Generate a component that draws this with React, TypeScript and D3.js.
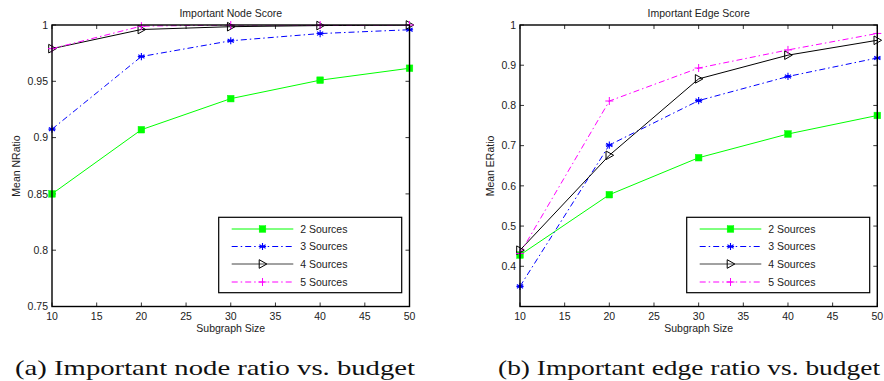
import React from "react";
import * as d3 from "d3";

const sizes = [10, 20, 30, 40, 50];
const seriesNames = ["2 Sources", "3 Sources", "4 Sources", "5 Sources"];
const nodeS2 = [0.85, 0.907, 0.9346, 0.951, 0.9616];
const nodeS3 = [0.9075, 0.972, 0.986, 0.9924, 0.9958];
const nodeS4 = [0.979, 0.996, 0.9985, 0.9995, 1.0];
const nodeS5 = [0.979, 0.999, 1.0, 1.0, 1.0];
const edgeS2 = [0.428, 0.578, 0.67, 0.729, 0.775];
const edgeS3 = [0.35, 0.7015, 0.812, 0.872, 0.918];
const edgeS4 = [0.44, 0.676, 0.866, 0.925, 0.962];
const edgeS5 = [0.432, 0.811, 0.893, 0.938, 0.979];
const xTicks = [10, 15, 20, 25, 30, 35, 40, 45, 50];
const nodeYTicks = [0.75, 0.8, 0.85, 0.9, 0.95, 1];
const edgeYTicks = [0.4, 0.5, 0.6, 0.7, 0.8, 0.9, 1];

const colors = ["#00ff00", "#0000ff", "#000000", "#ff00ff"];
const dashes = ["", "6,3,1.5,3", "", "6,3,1.5,3"];
const markers = ["square", "star", "tri", "plus"];

const FONT = "'Liberation Sans', Arial, Helvetica, sans-serif";
const TXT = "#222";

function Marker({ type, x, y, color }: { type: string; x: number; y: number; color: string }) {
  if (type === "square") {
    return <rect x={x - 3.3} y={y - 3.3} width={6.6} height={6.6} fill={color} stroke={color} strokeWidth={0.5} />;
  }
  if (type === "star") {
    const r = 3.6;
    const segs = [0, 60, 120].map((a) => {
      const rad = (a * Math.PI) / 180;
      return `M${x - r * Math.sin(rad)},${y - r * Math.cos(rad)}L${x + r * Math.sin(rad)},${y + r * Math.cos(rad)}`;
    });
    return <path d={segs.join("") + `M${x - r},${y}L${x + r},${y}`} stroke={color} strokeWidth={1.1} fill="none" />;
  }
  if (type === "tri") {
    return (
      <path
        d={`M${x - 3.3},${y - 4.3}L${x + 4.3},${y}L${x - 3.3},${y + 4.3}Z`}
        stroke={color}
        strokeWidth={1}
        fill="none"
      />
    );
  }
  const r = 4;
  return <path d={`M${x - r},${y}L${x + r},${y}M${x},${y - r}L${x},${y + r}`} stroke={color} strokeWidth={1} fill="none" />;
}

type PanelProps = {
  left: number;
  right: number;
  yDomain: [number, number];
  yTicks: number[];
  data: number[][];
  title: string;
  yLabel: string;
  yLabelX: number;
  legendX: number;
  caption: string;
  captionX: number;
  captionW: number;
};

function Panel(p: PanelProps) {
  const top = 25;
  const bottom = 306.5;
  const x = d3.scaleLinear().domain([10, 50]).range([p.left, p.right]);
  const y = d3.scaleLinear().domain(p.yDomain).range([bottom, top]);
  const line = d3
    .line<number>()
    .x((_, i) => x(sizes[i]))
    .y((v) => y(v));
  const tl = 4;
  const cx = (p.left + p.right) / 2;
  const legW = 183;
  const legTop = 217.3;
  const legH = 75.4;
  const rowYs = [229, 246.5, 264, 282];
  return (
    <g>
      <defs>
        <clipPath id={`clip-${p.left}`}>
          <rect x={p.left} y={top} width={p.right - p.left} height={bottom - top} />
        </clipPath>
      </defs>
      <text x={cx} y={17} textAnchor="middle" fontFamily={FONT} fontSize={10.5} fill={TXT}>
        {p.title}
      </text>
      {xTicks.map((t) => (
        <g key={`xt${t}`}>
          <line x1={x(t)} x2={x(t)} y1={bottom} y2={bottom - tl} stroke="#000" strokeWidth={0.8} />
          <line x1={x(t)} x2={x(t)} y1={top} y2={top + tl} stroke="#000" strokeWidth={0.8} />
          <text x={x(t)} y={bottom + 13.5} textAnchor="middle" fontFamily={FONT} fontSize={10.5} fill={TXT}>
            {t}
          </text>
        </g>
      ))}
      {p.yTicks.map((t) => (
        <g key={`yt${t}`}>
          <line x1={p.left} x2={p.left + tl} y1={y(t)} y2={y(t)} stroke="#000" strokeWidth={0.8} />
          <line x1={p.right} x2={p.right - tl} y1={y(t)} y2={y(t)} stroke="#000" strokeWidth={0.8} />
          <text x={p.left - 4} y={y(t) + 3.8} textAnchor="end" fontFamily={FONT} fontSize={10.5} fill={TXT}>
            {String(t)}
          </text>
        </g>
      ))}
      <text x={cx} y={332} textAnchor="middle" fontFamily={FONT} fontSize={10.5} fill={TXT}>
        Subgraph Size
      </text>
      <text
        transform={`translate(${p.yLabelX},${166}) rotate(-90)`}
        textAnchor="middle"
        fontFamily={FONT}
        fontSize={10.5}
        fill={TXT}
      >
        {p.yLabel}
      </text>
      <g clipPath={`url(#clip-${p.left})`}>
        {p.data.map((d, i) => (
          <path
            key={`l${i}`}
            d={line(d) || ""}
            fill="none"
            stroke={colors[i]}
            strokeWidth={1}
            strokeDasharray={dashes[i] || undefined}
          />
        ))}
      </g>
      {p.data.map((d, i) => (
        <g key={`m${i}`}>
          {d.map((v, j) => (
            <Marker key={j} type={markers[i]} x={x(sizes[j])} y={y(v)} color={colors[i]} />
          ))}
        </g>
      ))}
      <rect x={p.left} y={top} width={p.right - p.left} height={bottom - top} fill="none" stroke="#000" strokeWidth={1.4} />
      <rect x={p.legendX} y={legTop} width={legW} height={legH} fill="#fff" stroke="#000" strokeWidth={1.2} />
      {seriesNames.map((name, i) => {
        const ly = rowYs[i];
        const lx1 = p.legendX + 13;
        const lx2 = p.legendX + 74.6;
        return (
          <g key={name}>
            <line
              x1={lx1}
              x2={lx2}
              y1={ly}
              y2={ly}
              stroke={i === 2 ? "#444" : colors[i]}
              strokeWidth={1}
              strokeDasharray={dashes[i] || undefined}
            />
            <Marker type={markers[i]} x={(lx1 + lx2) / 2} y={ly} color={colors[i]} />
            <text x={p.legendX + 81.5} y={ly + 3.8} fontFamily={FONT} fontSize={10.5} fill={TXT}>
              {name}
            </text>
          </g>
        );
      })}
      <text
        x={p.captionX}
        y={375}
        fontFamily="'Liberation Serif', 'Times New Roman', serif"
        fontSize={21}
        fill="#111"
        textLength={p.captionW}
        lengthAdjust="spacingAndGlyphs"
      >
        {p.caption}
      </text>
    </g>
  );
}

export default function App() {
  return (
    <svg width={884} height={381} style={{ position: "absolute", left: 0, top: 0, background: "#fff" }}>
      <rect width={884} height={381} fill="#fff" />
      <Panel
        left={52}
        right={409.5}
        yDomain={[0.75, 1]}
        yTicks={nodeYTicks}
        data={[nodeS2, nodeS3, nodeS4, nodeS5]}
        title="Important Node Score"
        yLabel="Mean NRatio"
        yLabelX={19.5}
        legendX={218.7}
        caption="(a) Important node ratio vs. budget"
        captionX={15}
        captionW={400}
      />
      <Panel
        left={520}
        right={877.3}
        yDomain={[0.3, 1]}
        yTicks={edgeYTicks}
        data={[edgeS2, edgeS3, edgeS4, edgeS5]}
        title="Important Edge Score"
        yLabel="Mean  ERatio"
        yLabelX={493.5}
        legendX={686.7}
        caption="(b) Important edge ratio vs. budget"
        captionX={498}
        captionW={382}
      />
    </svg>
  );
}
